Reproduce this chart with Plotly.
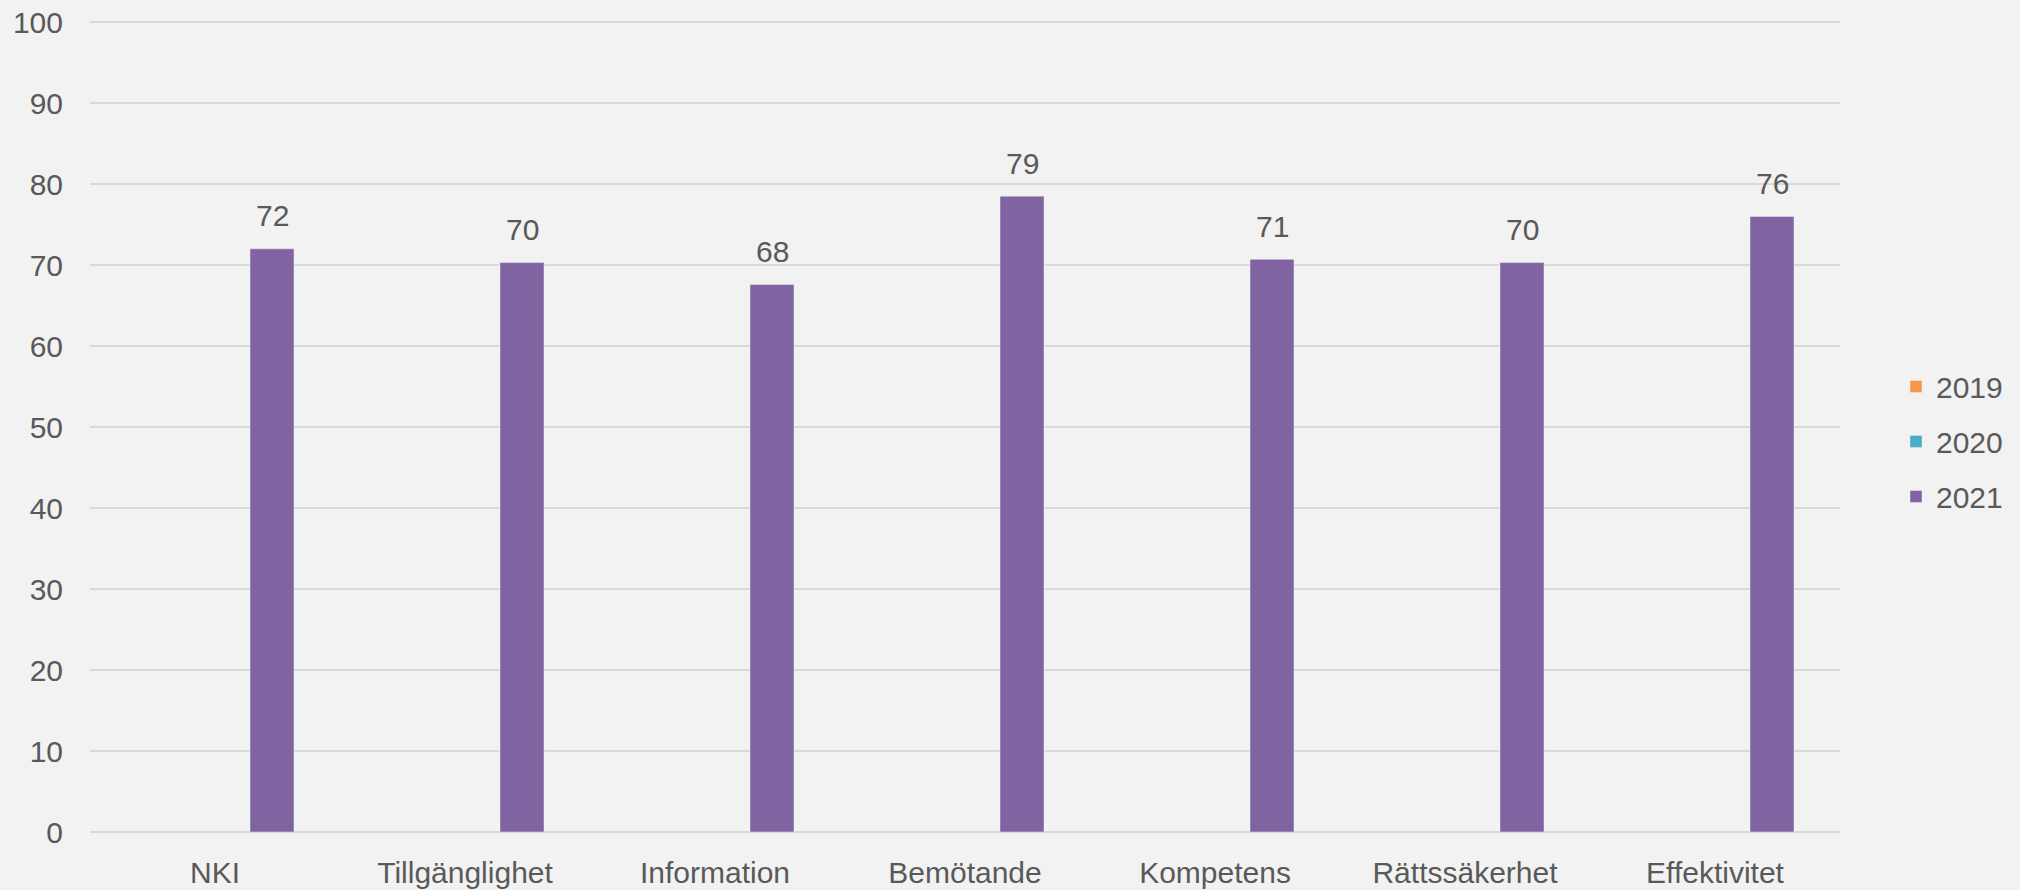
import plotly.graph_objects as go

categories = ["NKI", "Tillgänglighet", "Information", "Bemötande", "Kompetens", "Rättssäkerhet", "Effektivitet"]
series_names = ["2019", "2020", "2021"]
values_2019 = [None] * 7
values_2020 = [None] * 7
values_2021 = [72.0, 70.3, 67.6, 78.5, 70.7, 70.3, 76.0]
labels_2021 = ["72", "70", "68", "79", "71", "70", "76"]
y_ticks = [0, 10, 20, 30, 40, 50, 60, 70, 80, 90, 100]
colors = ["#F79646", "#4BACC6", "#8064A2"]

FONT = "Liberation Sans, Arial, sans-serif"
TXT = "#595959"

fig = go.Figure()
for name, vals, col in zip(series_names, [values_2019, values_2020, values_2021], colors):
    fig.add_trace(go.Bar(x=categories, y=vals, name=name, marker_color=col,
                         legendgroup=name, hoverinfo="skip"))

for c, v, lab in zip(categories, values_2021, labels_2021):
    fig.add_annotation(x=c, y=v, xref="x", yref="y", text=lab, showarrow=False,
                       xshift=57, yshift=33, yanchor="middle",
                       font=dict(family=FONT, size=30, color=TXT))

fig.update_layout(
    width=2020, height=890,
    paper_bgcolor="#F2F2F2", plot_bgcolor="#F2F2F2",
    margin=dict(l=90, r=180, t=20, b=58, autoexpand=False),
    barmode="group", bargap=0.316, bargroupgap=0.228,
    font=dict(family=FONT, size=30, color=TXT),
    legend=dict(x=1.032, xanchor="left", y=0.481, yanchor="middle",
                tracegroupgap=13, font=dict(family=FONT, size=30, color=TXT),
                bgcolor="rgba(0,0,0,0)"),
    showlegend=True,
    hovermode=False,
)
fig.update_xaxes(showgrid=False, showline=False, ticks="", ticklabelstandoff=20,
                 automargin=False,
                 tickfont=dict(family=FONT, size=30, color=TXT))
fig.update_yaxes(range=[0, 100.25], tickvals=y_ticks, showgrid=True, gridcolor="#D9D9D9",
                 gridwidth=2, zeroline=True, zerolinecolor="#D9D9D9", zerolinewidth=2,
                 showline=False, ticks="", ticklabelstandoff=26, automargin=False,
                 tickfont=dict(family=FONT, size=30, color=TXT))

fig.write_html("out.html", config={"staticPlot": True},
               post_script="document.body.style.margin='0';document.body.style.overflow='hidden';")
